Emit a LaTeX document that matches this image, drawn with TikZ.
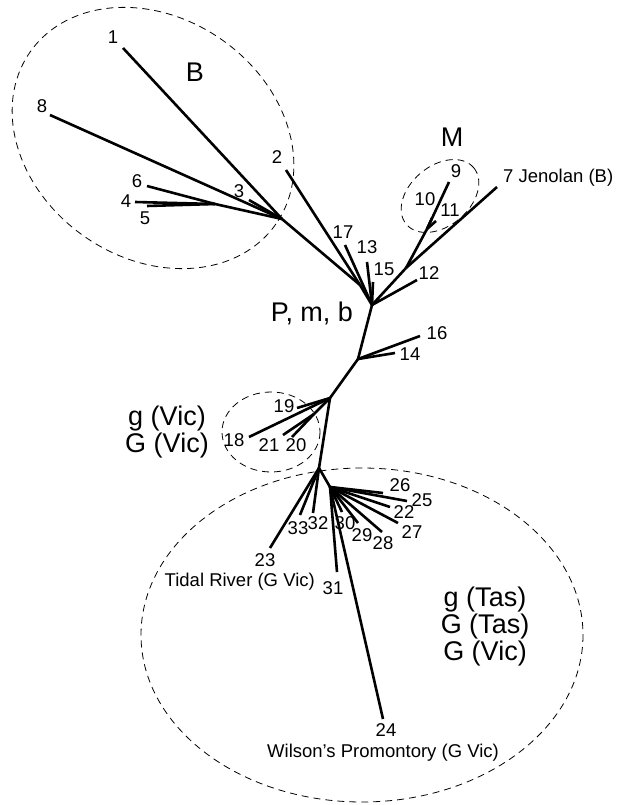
\documentclass[tikz,border=0pt]{standalone}
\usepackage{fontspec}
\setmainfont{Liberation Sans}
\begin{document}
\begin{tikzpicture}[x=1pt,y=-1pt,
  branch/.style={line width=2.6pt},
  clade/.style={line width=0.8pt, dash pattern=on 7pt off 5pt},
  num/.style={inner sep=0pt, font=\fontsize{18.5}{21}\selectfont},
  big/.style={inner sep=0pt, font=\fontsize{27}{24}\selectfont, align=center}]
\useasboundingbox (0,0) rectangle (625,805);

% internal nodes of the tree
\coordinate (X) at (282,219);
\coordinate (V) at (215,204);
\coordinate (Y) at (360,285);
\coordinate (P) at (372,305);
\coordinate (Z) at (406,268);
\coordinate (W) at (427,229);
\coordinate (R) at (358,359);
\coordinate (S) at (330,398);
\coordinate (S2) at (314,414);
\coordinate (T) at (319,468);
\coordinate (U) at (330,487);

% tips
\coordinate (t1) at (123,48);
\coordinate (t2) at (286,170);
\coordinate (t3) at (249,200);
\coordinate (t4) at (135,202);
\coordinate (t5) at (147,206);
\coordinate (t6) at (147,186);
\coordinate (t7) at (497,187);
\coordinate (t8) at (50,115);
\coordinate (t9) at (449,182);
\coordinate (t10) at (432,218);
\coordinate (t11) at (436,221);
\coordinate (t12) at (417,280);
\coordinate (t13) at (367,262);
\coordinate (t14) at (395,353);
\coordinate (t15) at (373,282);
\coordinate (t16) at (420,336);
\coordinate (t17) at (345,245);
\coordinate (t18) at (249,437);
\coordinate (t19) at (297,408);
\coordinate (t20) at (292,437);
\coordinate (t21) at (283,435);
\coordinate (t22) at (390,507);
\coordinate (t23) at (270,548);
\coordinate (t24) at (383,719);
\coordinate (t25) at (407,501);
\coordinate (t26) at (383,493);
\coordinate (t27) at (398,523);
\coordinate (t28) at (382,532);
\coordinate (t29) at (358,523);
\coordinate (t30) at (342,512);
\coordinate (t31) at (337,572);
\coordinate (t32) at (313,513);
\coordinate (t33) at (300,515);

% clade outlines
\draw[clade, rotate around={-35:(153,138)}] (153,138) ellipse [x radius=150, y radius=120];
\draw[clade, rotate around={40:(440,196)}] (440,196) ellipse [x radius=44, y radius=30];
\draw[clade] (271,432) ellipse [x radius=49, y radius=40];
\draw[clade] (362,635) ellipse [x radius=221, y radius=167];

% branches
\draw[branch] (t1) -- (X);
\draw[branch] (t8) -- (X);
\draw[branch] (t3) -- (X);
\draw[branch] (t4) -- (V);
\draw[branch] (t5) -- (V);
\draw[branch] (t6) -- (V);
\draw[branch] (V) -- (X);
\draw[branch] (X) -- (Y);
\draw[branch] (t2) -- (Y);
\draw[branch] (Y) -- (P);
\draw[branch] (t17) -- (P);
\draw[branch] (t13) -- (P);
\draw[branch] (t15) -- (P);
\draw[branch] (P) -- (t12);
\draw[branch] (P) -- (Z);
\draw[branch] (Z) -- (t7);
\draw[branch] (Z) -- (W);
\draw[branch] (W) -- (t9);
\draw[branch] (W) -- (t10);
\draw[branch] (W) -- (t11);
\draw[branch] (P) -- (R);
\draw[branch] (R) -- (t16);
\draw[branch] (R) -- (t14);
\draw[branch] (R) -- (S);
\draw[branch] (S) -- (t18);
\draw[branch] (S) -- (t19);
\draw[branch] (S) -- (S2);
\draw[branch] (S2) -- (t20);
\draw[branch] (S2) -- (t21);
\draw[branch] (S) -- (T);
\draw[branch] (T) -- (t23);
\draw[branch] (T) -- (t33);
\draw[branch] (T) -- (t32);
\draw[branch] (T) -- (U);
\draw[branch] (U) -- (t31);
\draw[branch] (U) -- (t24);
\foreach \k in {30,29,28,27,22,25,26} \draw[branch] (U) -- (t\k);

% tip labels
\node[num] (l1) at (113,37) {1};
\node[num] (l2) at (277,157) {2};
\node[num] (l3) at (239,191) {3};
\node[num] (l4) at (126,201) {4};
\node[num] (l5) at (145,218) {5};
\node[num] (l6) at (137,181) {6};
\node[num, anchor=west] (l7) at (503,178) {7 Jenolan (B)};
\node[num] (l8) at (42,106) {8};
\node[num] (l9) at (456,171) {9};
\node[num] (l10) at (425,199) {10};
\node[num] (l11) at (450,210) {11};
\node[num] (l12) at (429,273) {12};
\node[num] (l13) at (367,247) {13};
\node[num] (l14) at (410,354) {14};
\node[num] (l15) at (384,269) {15};
\node[num] (l16) at (437,333) {16};
\node[num] (l17) at (343,232) {17};
\node[num] (l18) at (234,440) {18};
\node[num] (l19) at (284,406) {19};
\node[num] (l20) at (296,445) {20};
\node[num] (l21) at (269,445) {21};
\node[num] (l22) at (404,512) {22};
\node[num] (l23) at (265,560) {23};
\node[num] (l24) at (386,730) {24};
\node[num] (l25) at (422,500) {25};
\node[num] (l26) at (400,485) {26};
\node[num] (l27) at (412,532) {27};
\node[num] (l28) at (383,543) {28};
\node[num] (l29) at (362,535) {29};
\node[num] (l30) at (345,523) {30};
\node[num] (l31) at (333,588) {31};
\node[num] (l32) at (318,523) {32};
\node[num] (l33) at (298,528) {33};
\node[num, anchor=east] (tidal) at (315,582) {Tidal River (G Vic)};
\node[num, anchor=west] (wilson) at (267,753) {Wilson’s Promontory (G Vic)};

% clade labels
\node[big] (cB) at (195,72) {B};
\node[big] (cM) at (452,137) {M};
\node[big] (cP) at (312,313) {P, m, b};
\node[big] (cG) at (167,432) {g (Vic)\\G (Vic)};
\node[big, font=\fontsize{27}{27}\selectfont] (cT) at (485,627) {g (Tas)\\G (Tas)\\G (Vic)};
\end{tikzpicture}
\end{document}
